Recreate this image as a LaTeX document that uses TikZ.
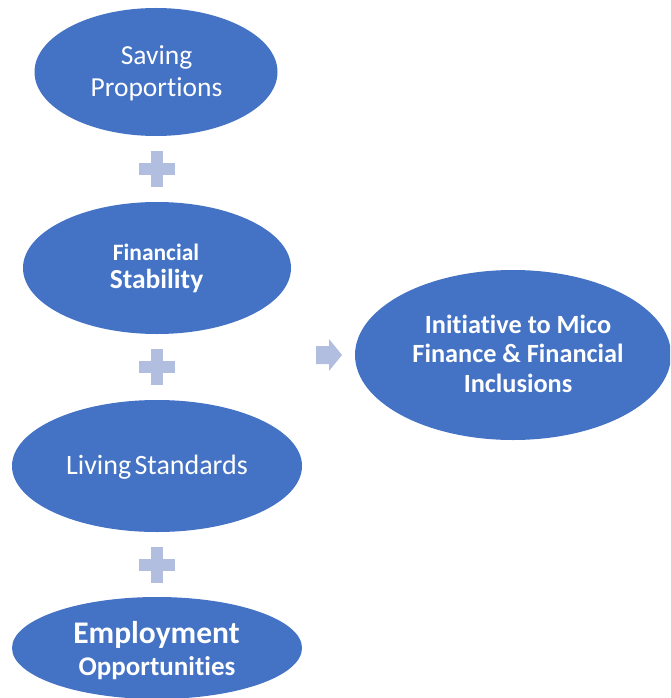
\documentclass[tikz,border=0pt]{standalone}
\usepackage{fontspec}
\setmainfont{Carlito}[Ligatures=NoCommon]
\usetikzlibrary{calc,shapes.geometric}
\definecolor{ellblue}{RGB}{68,114,196}
\definecolor{plusc}{RGB}{178,190,223}
\newcommand{\fsz}[1]{\fontsize{#1}{#1}\selectfont}
\begin{document}
\begin{tikzpicture}[x=1pt,y=-1pt,
  ell/.style={ellipse,fill=ellblue,inner sep=0pt,outer sep=0pt},
  lbl/.style={text=white,inner sep=0pt,anchor=base},
  plusfill/.style={fill=plusc},
  arrowfill/.style={fill=plusc}]
\useasboundingbox (0,0) rectangle (670,698);
\clip (0,0) rectangle (670,698);
\node[ell,minimum width=243,minimum height=128] (e1) at (156,72) {};
\node[ell,minimum width=268,minimum height=132] (e2) at (157,268) {};
\node[ell,minimum width=290,minimum height=132] (e3) at (157,466) {};
\node[ell,minimum width=290,minimum height=102] (e4) at (157,648) {};
\node[ell,minimum width=316,minimum height=170] (e5) at (513,355) {};
% labels
\node[lbl,font=\fsz{27.5}] (t1a) at (156.5,65) {Saving};
\node[lbl,font=\fsz{27.5}] (t1b) at (156.5,97) {Proportions};
\node[lbl,font=\fsz{23.5}\bfseries] (t2a) at (156,260) {Financial};
\node[lbl,font=\fsz{27.5}\bfseries] (t2b) at (156.5,288) {Stability};
\node[lbl,font=\fsz{28}] (t3) at (157,474) {Living\hspace{-3pt} Standards};
\node[lbl,font=\fsz{31.5}\bfseries] (t4a) at (156.5,643) {Employment};
\node[lbl,font=\fsz{27}\bfseries] (t4b) at (157,675) {Opportunities};
\node[lbl,font=\fsz{26.3}\bfseries] (t5a) at (518,333) {Initiative to Mico};
\node[lbl,font=\fsz{26.3}\bfseries] (t5b) at (518,362) {Finance \& Financial};
\node[lbl,font=\fsz{26.3}\bfseries] (t5c) at (518,392) {Inclusions};
% plus signs between the ellipses
\foreach \a/\b/\n in {e1/e2/p1,e2/e3/p2,e3/e4/p3}{
  \coordinate (\n) at ($(\a.south)!0.5!(\b.north)$);
  \fill[plusfill] ($(\n)+(-18,-6)$) rectangle ($(\n)+(18,6)$);
  \fill[plusfill] ($(\n)+(-6,-18)$) rectangle ($(\n)+(6,18)$);
}
% arrow pointing to e5
\coordinate (ar) at ($(e5.west)+(-26,0)$);
\fill[arrowfill] ($(ar)+(-13,-9)$) -- ($(ar)+(0,-9)$) -- ($(ar)+(0,-16)$) -- ($(ar)+(13,0)$)
  -- ($(ar)+(0,16)$) -- ($(ar)+(0,9)$) -- ($(ar)+(-13,9)$) -- cycle;
\end{tikzpicture}
\end{document}
